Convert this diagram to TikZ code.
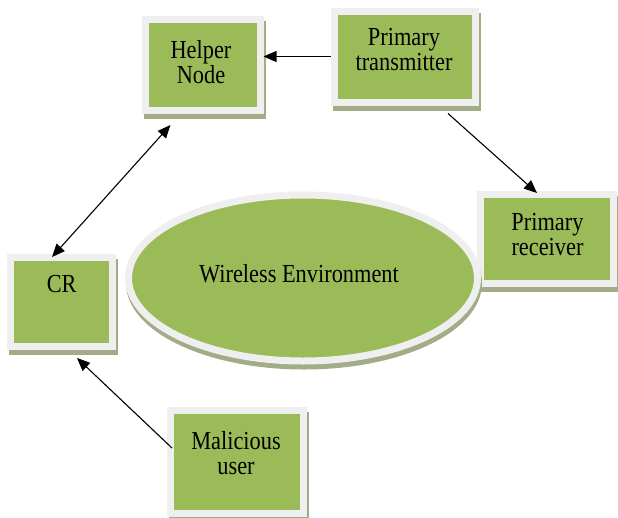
\documentclass[tikz,border=0pt]{standalone}
\usepackage{fontspec}
\setmainfont[FakeStretch=0.86]{Liberation Serif}
\usetikzlibrary{shapes.geometric,arrows.meta,calc}
\definecolor{boxgreen}{HTML}{9BBB59}
\definecolor{framec}{HTML}{EFEFEF}
\definecolor{shadowc}{RGB}{162,172,134}
\tikzset{
  boxshape/.style={rectangle, fill=boxgreen, draw=framec, line width=7pt, inner sep=0pt,
    preaction={draw=shadowc, fill=shadowc, transform canvas={shift={(2pt,-5pt)}}}},
  ellshape/.style={ellipse, fill=boxgreen, draw=framec, line width=7pt, inner sep=0pt,
    preaction={draw=shadowc, fill=shadowc, transform canvas={shift={(1pt,-5pt)}}}},
  lbl/.style={align=center, font=\fontsize{26}{25}\selectfont, text=black, inner sep=0pt},
  arr/.style={line width=1.1pt, -{Triangle[length=13pt,width=11pt]}},
  darr/.style={line width=1.1pt, {Triangle[length=13pt,width=11pt]}-{Triangle[length=13pt,width=11pt]}}
}
\begin{document}
\begin{tikzpicture}[x=1pt,y=-1pt]
\useasboundingbox (0,0) rectangle (618,517);
% boxes
\node[boxshape, minimum width=115pt, minimum height=91.5pt] (hn) at (202.5,64.75) {};
\node[boxshape, minimum width=141.5pt, minimum height=91pt] (pt) at (405,56.5) {};
\node[boxshape, minimum width=133pt, minimum height=89pt] (pr) at (547,239) {};
\node[boxshape, minimum width=102pt, minimum height=89pt] (cr) at (61.5,302) {};
\node[boxshape, minimum width=133pt, minimum height=103pt] (mu) at (237,462) {};
\node[ellshape, minimum width=349pt, minimum height=166pt] (we) at (303,278) {};
% labels
\node[lbl] (hnt) at (201,62) {Helper\\Node};
\node[lbl] (ptt) at (404,50) {Primary\\transmitter};
\node[lbl] (prt) at (547.5,235) {Primary\\receiver};
\node[lbl] (crt) at (61.7,284) {CR};
\node[lbl] (mut) at (236,453) {Malicious\\user};
\node[lbl] (wet) at (299,274) {Wireless Environment};
% connectors
\draw[arr] (pt.west) -- (pt.west -| hn.east);
\draw[arr] ($(pt.south)+(43,8)$) -- ($(pr.north)+(-10,2)$);
\draw[darr] ($(hn.south)+(-32,11)$) -- ($(cr.north)+(-9.5,3)$);
\draw[arr] ($(mu.west)+(5,-14)$) -- ($(cr.south)+(15.5,8)$);
\end{tikzpicture}
\end{document}
